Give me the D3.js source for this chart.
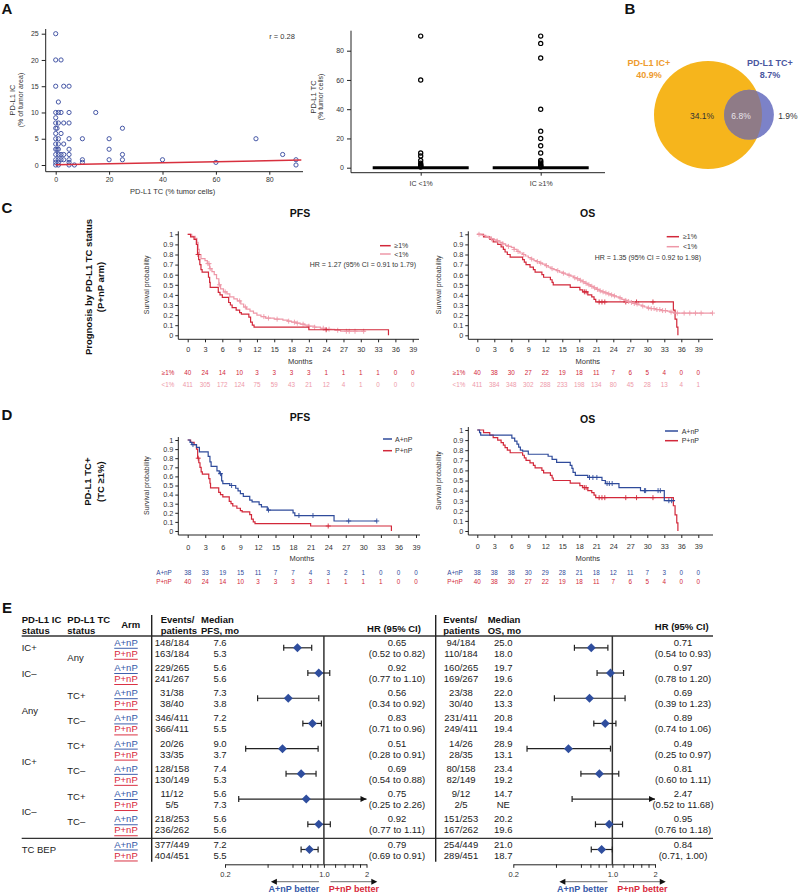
<!DOCTYPE html>
<html><head><meta charset="utf-8">
<script src="https://cdn.jsdelivr.net/npm/d3@7"></script>
<style>body{margin:0;background:#fff;}</style>
</head><body>
<svg id="c" width="799" height="893" xmlns="http://www.w3.org/2000/svg"></svg>
<script>
// ---------------- DATA ----------------
// Panel A scatter: PD-L1 TC (%) vs PD-L1 IC (%)
const scatterTC = [0,0,2,0,3,5,1,0,1,2,5,15,0,0,1,3,5,0,0.5,25,0,2,0,1,5,10,20,75,0,1,3,0,0.5,1,5,20,0,1,2,3,5,25,85,0,1,2,3,5,10,20,25,40,90,0,1,5,10,60,0,1,5,7,90];
const scatterIC = [25,20,20,15,15,15,12,10,10,10,10,10,9,8,8,8,8,7,7,7,6,6,5,5,5,5,5,5,4,4,4,3,3,3,3,3,2,2,2,2,2,2,2,1,1,1,1,1,1,1,1,1,1,0.5,0.5,0.5,0.5,0.5,0,0,0,0,0];
const fitLineTC = [0, 92];
const fitLineIC = [0.05, 0.95];
const scatterXTicks = [0,20,40,60,80];
const scatterYTicks = [0,5,10,15,20,25];
const corrLabel = "r = 0.28";
// Panel A box plot
const boxGroups = ["IC <1%", "IC \u22651%"];
const boxMedians = [0, 0];
const boxOutliersLow = [90,60,10,8,5,3,2,1.5,1,0.5];
const boxOutliersHigh = [90,85,75,40,25,20,15,10,5,4,3,2,1.5,1,0.5];
const boxYTicks = [0,20,40,60,80];
// Panel B Venn
const vennSets = ["PD-L1 IC+", "PD-L1 TC+"];
const vennTotals = [40.9, 8.7];
const vennRegions = [34.1, 6.8, 1.9];
// KM axes
const monthTicks = [0,3,6,9,12,15,18,21,24,27,30,33,36,39];
const survTicks = [0,0.1,0.2,0.3,0.4,0.5,0.6,0.7,0.8,0.9,1];
// PFS, TC>=1%, P+nP
const pfsPos = [[0,1],[0.5,0.975],[1.1,0.95],[1.5,0.9],[1.7,0.8],[1.9,0.75],[2.1,0.7],[2.3,0.65],[2.5,0.625],[3.6,0.575],[3.8,0.525],[3.9,0.475],[5.3,0.425],[5.6,0.4],[6.0,0.375],[7.1,0.325],[7.4,0.3],[7.7,0.275],[8.4,0.25],[9.0,0.225],[9.3,0.21],[10.6,0.18],[10.9,0.13],[11.2,0.1],[11.5,0.08],[21.0,0.055],[34.8,0]];
const pfsPosEnd = 34.8;
const pfsPosCens = [1.8, 24];
// PFS, TC<1%, P+nP
const pfsNeg = [[0,1],[0.7,0.98],[1.3,0.96],[1.6,0.92],[1.8,0.85],[2.0,0.8],[2.3,0.76],[3.0,0.74],[3.4,0.71],[3.8,0.66],[4.2,0.63],[4.6,0.6],[5.0,0.56],[5.4,0.5],[5.7,0.46],[6.2,0.43],[6.8,0.41],[7.3,0.38],[8.0,0.36],[8.6,0.34],[9.2,0.31],[9.7,0.28],[10.2,0.26],[10.8,0.24],[11.4,0.22],[12.0,0.2],[12.7,0.185],[13.5,0.17],[15.0,0.16],[16.5,0.15],[17.3,0.14],[18.0,0.13],[18.8,0.12],[19.5,0.11],[20.3,0.1],[21.0,0.09],[22.0,0.08],[23.0,0.07],[24.0,0.06],[25.5,0.05],[26.5,0.04]];
const pfsNegEnd = 30.8;
const pfsNegCens = [3.5,3.7,3.9,5.5,6.5,9,10,13.2,14,15.5,17.5,18.5,19,20,21,22,23.5,24.5,26,27.5,28,29,30.5];
// OS, TC>=1%, P+nP
const osPos = [[0,1],[1.1,0.975],[2.2,0.95],[2.8,0.925],[3.6,0.9],[4.2,0.875],[4.6,0.85],[4.9,0.825],[5.3,0.8],[5.8,0.775],[8.0,0.75],[8.3,0.725],[8.6,0.7],[9.3,0.675],[9.9,0.65],[10.2,0.625],[11.4,0.6],[11.7,0.575],[12.9,0.55],[13.2,0.525],[13.4,0.5],[16.4,0.475],[18.1,0.45],[18.6,0.43],[19.5,0.4],[20.2,0.38],[20.6,0.355],[20.9,0.33],[34.6,0.25],[34.9,0.16],[35.2,0.08],[35.4,0]];
const osPosEnd = 35.4;
const osPosCens = [18.9,19.2,21.5,22.0,22.5,26.2,28.1,31.0];
// OS, TC<1%, P+nP
const osNeg = [[0,1],[0.5,0.995],[1,0.99],[1.5,0.98],[2,0.965],[2.5,0.955],[3,0.945],[3.5,0.935],[4,0.92],[4.5,0.905],[5,0.89],[5.5,0.88],[6,0.87],[6.5,0.85],[7,0.83],[7.5,0.815],[8,0.8],[8.5,0.785],[9,0.77],[9.5,0.755],[10,0.74],[10.5,0.73],[11,0.715],[11.5,0.705],[12,0.69],[12.5,0.675],[13,0.66],[13.5,0.65],[14,0.64],[14.5,0.625],[15,0.615],[15.5,0.605],[16,0.595],[16.5,0.585],[17,0.57],[17.5,0.56],[18,0.545],[18.5,0.53],[19,0.515],[19.5,0.5],[20,0.485],[20.5,0.47],[21,0.455],[21.5,0.44],[22,0.43],[22.5,0.42],[23,0.41],[23.5,0.4],[24,0.39],[24.5,0.38],[25,0.37],[25.5,0.355],[26,0.345],[26.5,0.335],[27,0.325],[27.5,0.315],[28,0.31],[28.5,0.3],[29,0.29],[29.5,0.28],[30,0.27],[30.5,0.265],[31.5,0.255],[32.5,0.245],[33.5,0.24],[34,0.23],[34.6,0.22]];
const osNegEnd = 41.5;
const osNegCens = [0.3,2.5,3.5,4.5,5.5,6.5,7.2,8.2,9.6,10.6,11.2,12.2,13.2,14.2,15.2,16.2,17.2,17.7,18.2,18.7,19.2,19.7,20.2,20.7,21.2,21.7,22.2,22.7,23.2,23.7,24.2,25.2,26.2,26.7,27.2,27.7,28.2,29.2,30.2,30.7,31.2,31.7,32.2,32.7,33.2,34.2,35.3,36.5,37.5,38.5,39.5,41.5];
// PFS, TC>=1%, A+nP
const pfsAtz = [[0,1],[0.4,0.975],[0.7,0.95],[1.5,0.92],[2.0,0.87],[3.5,0.82],[3.8,0.76],[4.0,0.71],[5.0,0.66],[5.4,0.63],[5.8,0.55],[6.0,0.52],[7.2,0.5],[8.2,0.47],[8.6,0.44],[9.0,0.41],[9.5,0.38],[10.6,0.34],[11.0,0.32],[12.2,0.29],[12.6,0.265],[13.6,0.23],[18.0,0.2],[18.3,0.17],[25.0,0.11]];
const pfsAtzEnd = 32.3;
const pfsAtzCens = [0.9,5.6,7.5,13.8,19,21.4,27.5,32.3];
// OS, TC>=1%, A+nP
const osAtz = [[0,1],[0.4,0.975],[0.6,0.95],[6.1,0.92],[6.6,0.89],[7.0,0.86],[7.3,0.83],[7.6,0.8],[8.0,0.79],[9.0,0.76],[12.5,0.74],[13.2,0.71],[14.0,0.68],[16.4,0.65],[16.7,0.62],[16.9,0.58],[17.3,0.55],[19.5,0.53],[22.0,0.5],[22.6,0.47],[25.0,0.43],[28.8,0.4],[33.0,0.3]];
const osAtzEnd = 34.9;
const osAtzCens = [19.8,20.4,21.1,22.9,23.3,23.8,29.5,29.7,31.9,32.3,33.8,34.3];
// Numbers at risk
const riskPfsPos = [40,24,14,10,3,3,3,3,1,1,1,1,0,0];
const riskPfsNeg = [411,305,172,124,75,59,43,21,12,4,1,0,0,0];
const riskOsPos = [40,38,30,27,22,19,18,11,7,6,5,4,0,0];
const riskOsNeg = [411,384,348,302,288,233,198,134,80,45,28,13,4,1];
const riskPfsAtz = [38,33,19,15,11,7,7,4,3,2,1,0,0,0];
const riskOsAtz = [38,38,38,30,29,28,21,18,12,11,7,3,0,0];
const hrPrognosisPfs = "HR = 1.27 (95% CI = 0.91 to 1.79)";
const hrPrognosisOs = "HR = 1.35 (95% CI = 0.92 to 1.98)";
// Panel E forest table
const icLabels = ["IC+","IC\u2013","Any","IC+","IC\u2013","TC BEP"];
const icLabelRows = [0,1,2.5,4.5,6.5,8];
const tcLabels = ["Any","TC+","TC\u2013","TC+","TC\u2013","TC+","TC\u2013"];
const tcLabelRows = [0.5,2,3,4,5,6,7];
const armLabels = ["A+nP","P+nP"];
const pfsEventsA = ["148/184","229/265","31/38","346/411","20/26","128/158","11/12","218/253","377/449"];
const pfsEventsP = ["163/184","241/267","38/40","366/411","33/35","130/149","5/5","236/262","404/451"];
const pfsMedA = ["7.6","5.6","7.3","7.2","9.0","7.4","5.6","5.6","7.2"];
const pfsMedP = ["5.3","5.6","3.8","5.5","3.7","5.3","7.3","5.6","5.5"];
const pfsHR = [0.65,0.92,0.56,0.83,0.51,0.69,0.75,0.92,0.79];
const pfsLo = [0.52,0.77,0.34,0.71,0.28,0.54,0.25,0.77,0.69];
const pfsHi = [0.82,1.10,0.92,0.96,0.91,0.88,2.26,1.11,0.91];
const osEventsA = ["94/184","160/265","23/38","231/411","14/26","80/158","9/12","151/253","254/449"];
const osEventsP = ["110/184","169/267","30/40","249/411","28/35","82/149","2/5","167/262","289/451"];
const osMedA = ["25.0","19.7","22.0","20.8","28.9","23.4","14.7","20.2","21.0"];
const osMedP = ["18.0","19.6","13.3","19.4","13.1","19.2","NE","19.6","18.7"];
const osHR = [0.71,0.97,0.69,0.89,0.49,0.81,2.47,0.95,0.84];
const osLo = [0.54,0.78,0.39,0.74,0.25,0.60,0.52,0.76,0.71];
const osHi = [0.93,1.20,1.23,1.06,0.97,1.11,11.68,1.18,1.00];
const osCiSep = [" to "," to "," to "," to "," to "," to "," to "," to ",", "];
const forestTicks = [0.2,0.4,0.6,0.7,0.8,0.9,1,1.2,1.4,1.6,1.8,2];
const forestTickLabels = {"0.2":"0.2","1":"1.0","2":"2"};

// ---------------- STYLE ----------------
const FONT = "'Liberation Sans', Arial, Helvetica, sans-serif";
const RED = "#D2283A", PINK = "#EE98A8", BLUE = "#2F4B9B";
const svg = d3.select("#c").attr("font-family", FONT);

function T(p, x, y, s, o = {}) {
  const t = p.append("text").attr("x", x).attr("y", y).text(s)
    .attr("dominant-baseline", "central")
    .attr("font-size", o.size || 9.5).attr("fill", o.fill || "#222")
    .attr("text-anchor", o.anchor || "start");
  if (o.bold) t.attr("font-weight", "bold");
  if (o.italic) t.attr("font-style", "italic");
  if (o.underline) t.attr("text-decoration", "underline");
  if (o.rotate) t.attr("transform", `rotate(-90 ${x} ${y})`);
  return t;
}
function L(p, x1, y1, x2, y2, c = "#222", w = 1) {
  return p.append("line").attr("x1", x1).attr("y1", y1).attr("x2", x2).attr("y2", y2)
    .attr("stroke", c).attr("stroke-width", w);
}
function styleAxis(a, size) {
  a.attr("font-family", FONT).attr("font-size", size).attr("color", "#333");
  a.selectAll(".tick line").attr("stroke", "#222");
}

// Panel letters
[["A",7,8],["B",630,8],["C",7,207],["D",7,414],["E",7,607]].forEach(d =>
  T(svg, d[1], d[2], d[0], {size: 15, bold: true, anchor: "middle", fill: "#111"}));

// ---------------- Panel A scatter ----------------
{
  const g = svg.append("g");
  const x = d3.scaleLinear().domain([0, 80]).range([55.7, 269.3]);
  const y = d3.scaleLinear().domain([0, 25]).range([165, 33.7]);
  const xa = g.append("g").attr("transform", "translate(0,171.7)")
    .call(d3.axisBottom(x).tickValues(scatterXTicks).tickSize(3).tickSizeOuter(0).tickPadding(2));
  xa.select(".domain").remove(); styleAxis(xa, 7);
  const ya = g.append("g").attr("transform", "translate(45.7,0)")
    .call(d3.axisLeft(y).tickValues(scatterYTicks).tickSize(4).tickSizeOuter(0).tickPadding(3));
  ya.select(".domain").remove(); styleAxis(ya, 7);
  L(g, 45.7, 171.7, 303, 171.7, "#222", 1);
  L(g, 45.7, 29, 45.7, 171.7, "#222", 1);
  g.selectAll("circle.pt").data(scatterTC).enter().append("circle")
    .attr("cx", d => x(d)).attr("cy", (d, i) => y(scatterIC[i])).attr("r", 2.1)
    .attr("fill", "none").attr("stroke", "#4657A6").attr("stroke-width", 1);
  g.append("path").attr("d", d3.line()(fitLineTC.map((t, i) => [x(t), y(fitLineIC[i])])))
    .attr("stroke", "#D8303E").attr("stroke-width", 1.5).attr("fill", "none");
  T(g, 282, 36, corrLabel, {size: 7.5, anchor: "middle", fill: "#333"});
  T(g, 172.7, 191, "PD-L1 TC (% tumor cells)", {size: 7.5, anchor: "middle", fill: "#333"});
  T(g, 12.3, 100, "PD-L1 IC", {size: 7.5, anchor: "middle", fill: "#333", rotate: true});
  T(g, 20, 100, "(% of tumor area)", {size: 7, anchor: "middle", fill: "#333", rotate: true});
}

// ---------------- Panel A box plot ----------------
{
  const g = svg.append("g");
  const y = d3.scaleLinear().domain([0, 80]).range([167.7, 50.7]);
  const x = d3.scalePoint().domain(boxGroups).range([420.7, 540.7]);
  const ya = g.append("g").attr("transform", "translate(351,0)")
    .call(d3.axisLeft(y).tickValues(boxYTicks).tickSize(4).tickSizeOuter(0).tickPadding(3));
  ya.select(".domain").remove(); styleAxis(ya, 7);
  const xa = g.append("g").attr("transform", "translate(0,172.7)")
    .call(d3.axisBottom(x).tickSize(3).tickSizeOuter(0).tickPadding(5));
  xa.select(".domain").remove(); styleAxis(xa, 7);
  L(g, 351, 30.7, 351, 172.7, "#222", 1);
  L(g, 351, 172.7, 605, 172.7, "#222", 1);
  boxGroups.forEach((grp, i) => {
    L(g, x(grp) - 48, y(boxMedians[i]), x(grp) + 48, y(boxMedians[i]), "#000", 3);
  });
  [boxOutliersLow, boxOutliersHigh].forEach((arr, i) => {
    g.selectAll(null).data(arr).enter().append("circle")
      .attr("cx", x(boxGroups[i])).attr("cy", d => y(d)).attr("r", 2.1)
      .attr("fill", "none").attr("stroke", "#000").attr("stroke-width", 1.2);
  });
  T(g, 313, 97, "PD-L1 TC", {size: 7.5, anchor: "middle", fill: "#333", rotate: true});
  T(g, 320.5, 97, "(% tumor cells)", {size: 7, anchor: "middle", fill: "#333", rotate: true});
}

// ---------------- Panel B Venn ----------------
{
  const g = svg.append("g");
  const rs = d3.scaleSqrt().domain([0, vennTotals[0]]).range([0, 54]);
  const c1 = {x: 708, y: 115, r: rs(vennTotals[0])};
  const c2 = {x: 749, y: 114.7, r: rs(vennTotals[1])};
  g.append("circle").attr("cx", c1.x).attr("cy", c1.y).attr("r", c1.r).attr("fill", "#F6B51C");
  g.append("circle").attr("cx", c2.x).attr("cy", c2.y).attr("r", c2.r).attr("fill", "#7C82C8");
  svg.append("defs").append("clipPath").attr("id", "vclip").append("circle")
    .attr("cx", c1.x).attr("cy", c1.y).attr("r", c1.r);
  g.append("circle").attr("cx", c2.x).attr("cy", c2.y).attr("r", c2.r).attr("fill", "#8F7B87")
    .attr("clip-path", "url(#vclip)");
  T(g, 649, 63, vennSets[0], {size: 9, bold: true, anchor: "middle", fill: "#EE9B2E"});
  T(g, 649, 75, vennTotals[0] + "%", {size: 9, bold: true, anchor: "middle", fill: "#EE9B2E"});
  T(g, 770, 63, vennSets[1], {size: 9, bold: true, anchor: "middle", fill: "#4A56A0"});
  T(g, 770, 75, vennTotals[1] + "%", {size: 9, bold: true, anchor: "middle", fill: "#4A56A0"});
  T(g, 702, 115.5, vennRegions[0] + "%", {size: 8.5, anchor: "middle", fill: "#333"});
  T(g, 741, 115.5, vennRegions[1] + "%", {size: 8.5, anchor: "middle", fill: "#E8E4EA"});
  T(g, 797.5, 115.5, vennRegions[2] + "%", {size: 8.5, anchor: "end", fill: "#333"});
}

// ---------------- KM panels ----------------
function survAt(steps, t) {
  let s = steps[0][1];
  for (const st of steps) { if (st[0] <= t) s = st[1]; }
  return s;
}
function km(cfg) {
  const g = svg.append("g");
  const x = d3.scaleLinear().domain([0, 39]).range([cfg.x0, cfg.x39]);
  const y = d3.scaleLinear().domain([0, 1]).range([cfg.yb, cfg.yt]);
  const xa = g.append("g").attr("transform", `translate(0,${cfg.xAxisY})`)
    .call(d3.axisBottom(x).tickValues(monthTicks).tickSize(3).tickSizeOuter(0).tickPadding(cfg.xPad));
  xa.select(".domain").remove(); styleAxis(xa, 7.3);
  const ya = g.append("g").attr("transform", `translate(${cfg.ax},0)`)
    .call(d3.axisLeft(y).tickValues(survTicks).tickSize(3).tickSizeOuter(0).tickPadding(2).tickFormat(d => String(d)));
  ya.select(".domain").remove(); styleAxis(ya, 7.3);
  L(g, cfg.ax, cfg.xAxisY, cfg.axEnd, cfg.xAxisY, "#222", 1);
  L(g, cfg.ax, cfg.yt - 3, cfg.ax, cfg.xAxisY, "#222", 1);
  T(g, cfg.tx, cfg.ty, cfg.title, {size: 10.5, bold: true, anchor: "middle", fill: "#111"});
  T(g, cfg.ylx, (cfg.yt + cfg.yb) / 2, "Survival probability", {size: 7, anchor: "middle", fill: "#333", rotate: true});
  T(g, (cfg.x0 + cfg.x39) / 2, cfg.monthsY, "Months", {size: 7.5, anchor: "middle", fill: "#333"});
  const line = d3.line().x(d => x(d[0])).y(d => y(d[1])).curve(d3.curveStepAfter);
  cfg.series.forEach(s => {
    const pts = s.steps.concat([[s.end, s.steps[s.steps.length - 1][1]]]);
    g.append("path").attr("d", line(pts)).attr("fill", "none").attr("stroke", s.color).attr("stroke-width", 1.2);
    s.censor.forEach(t => {
      const cx = x(t), cy = y(survAt(s.steps, t));
      g.append("path").attr("d", `M${cx - 2.5},${cy}H${cx + 2.5}M${cx},${cy - 2.5}V${cy + 2.5}`)
        .attr("stroke", s.color).attr("stroke-width", 0.9);
    });
  });
  cfg.legend.forEach((s, i) => {
    L(g, cfg.lx1, cfg.lys[i], cfg.lx2, cfg.lys[i], s.color, 1.5);
    T(g, cfg.ltx, cfg.lys[i], s.label, {size: 7, fill: "#333"});
  });
  if (cfg.hr) T(g, cfg.hrx, cfg.hry, cfg.hr, {size: 7, anchor: "end", fill: "#333"});
  cfg.risk.forEach((r, i) => {
    T(g, cfg.rlx, cfg.rys[i], r.label, {size: 6.3, anchor: "middle", fill: r.color});
    r.values.forEach((v, j) => T(g, x(monthTicks[j]), cfg.rys[i], String(v), {size: 6.3, anchor: "middle", fill: r.color}));
  });
}
const sPfsPos = {steps: pfsPos, end: pfsPosEnd, censor: pfsPosCens, color: RED};
const sPfsNeg = {steps: pfsNeg, end: pfsNegEnd, censor: pfsNegCens, color: PINK};
const sOsPos = {steps: osPos, end: osPosEnd, censor: osPosCens, color: RED};
const sOsNeg = {steps: osNeg, end: osNegEnd, censor: osNegCens, color: PINK};
const sPfsAtz = {steps: pfsAtz, end: pfsAtzEnd, censor: pfsAtzCens, color: BLUE};
const sOsAtz = {steps: osAtz, end: osAtzEnd, censor: osAtzCens, color: BLUE};

km({title: "PFS", tx: 300, ty: 213, x0: 187.7, x39: 412.7, yt: 234.3, yb: 335.3, xAxisY: 339.3, ax: 178.3, axEnd: 419, xPad: 5,
  ylx: 146.7, monthsY: 361.7, series: [sPfsNeg, sPfsPos],
  legend: [{color: RED, label: "\u22651%"}, {color: PINK, label: "<1%"}], lx1: 380, lx2: 390.7, ltx: 394.3, lys: [245.7, 254],
  hr: hrPrognosisPfs, hrx: 416, hry: 264.7,
  risk: [{label: "\u22651%", values: riskPfsPos, color: RED}, {label: "<1%", values: riskPfsNeg, color: PINK}], rlx: 168, rys: [372.7, 384]});
km({title: "OS", tx: 587.7, ty: 213, x0: 477.3, x39: 698.3, yt: 234.3, yb: 335.3, xAxisY: 339.3, ax: 468.3, axEnd: 713, xPad: 5,
  ylx: 438.3, monthsY: 361.7, series: [sOsPos, sOsNeg],
  legend: [{color: RED, label: "\u22651%"}, {color: PINK, label: "<1%"}], lx1: 666.7, lx2: 679, ltx: 683, lys: [236.7, 246.7],
  hr: hrPrognosisOs, hrx: 701, hry: 257.3,
  risk: [{label: "\u22651%", values: riskOsPos, color: RED}, {label: "<1%", values: riskOsNeg, color: PINK}], rlx: 459, rys: [372.7, 384]});
km({title: "PFS", tx: 300, ty: 416.7, x0: 187.7, x39: 416, yt: 440, yb: 531, xAxisY: 535, ax: 178.3, axEnd: 420, xPad: 6.5,
  ylx: 146.7, monthsY: 558.3, series: [sPfsPos, sPfsAtz],
  legend: [{color: BLUE, label: "A+nP"}, {color: RED, label: "P+nP"}], lx1: 383, lx2: 392, ltx: 395, lys: [439, 450.7],
  risk: [{label: "A+nP", values: riskPfsAtz, color: BLUE}, {label: "P+nP", values: riskPfsPos, color: RED}], rlx: 164, rys: [572.3, 581]});
km({title: "OS", tx: 587.7, ty: 419.3, x0: 477.3, x39: 698.3, yt: 430, yb: 531, xAxisY: 535, ax: 468.3, axEnd: 713, xPad: 6,
  ylx: 438.3, monthsY: 558.3, series: [sOsPos, sOsAtz],
  legend: [{color: BLUE, label: "A+nP"}, {color: RED, label: "P+nP"}], lx1: 665, lx2: 678, ltx: 681.7, lys: [431, 440.7],
  risk: [{label: "A+nP", values: riskOsAtz, color: BLUE}, {label: "P+nP", values: riskOsPos, color: RED}], rlx: 455, rys: [572.3, 581]});

// Row titles for C and D
T(svg, 88, 287, "Prognosis by PD-L1 TC status", {size: 9.5, bold: true, anchor: "middle", fill: "#111", rotate: true});
T(svg, 100.5, 287, "(P+nP arm)", {size: 9.5, bold: true, anchor: "middle", fill: "#111", rotate: true});
T(svg, 88, 481.7, "PD-L1 TC+", {size: 9.5, bold: true, anchor: "middle", fill: "#111", rotate: true});
T(svg, 100.5, 481.7, "(TC \u22651%)", {size: 9.5, bold: true, anchor: "middle", fill: "#111", rotate: true});

// ---------------- Panel E forest ----------------
{
  const g = svg.append("g");
  const fy = d3.scaleLinear().domain([0, 8]).range([647.8, 849.5]);
  const xP = d3.scaleLog().domain([0.2, 2]).range([225, 366.5]);
  const xO = d3.scaleLog().domain([0.2, 2]).range([513.3, 655]);
  const off = 5.5, HB = {size: 9.5, bold: true, fill: "#111"};
  // headers
  T(g, 21.7, 619.3, "PD-L1 IC", HB); T(g, 21.7, 630.5, "status", HB);
  T(g, 67.3, 619.3, "PD-L1 TC", HB); T(g, 67.3, 630.5, "status", HB);
  T(g, 130.7, 624.3, "Arm", {...HB, anchor: "middle"});
  T(g, 160.7, 619.3, "Events/", HB); T(g, 160.7, 630.5, "patients", HB);
  T(g, 201, 619.3, "Median", HB); T(g, 201, 630.5, "PFS, mo", HB);
  T(g, 394, 628, "HR (95% CI)", {...HB, anchor: "middle"});
  T(g, 443.3, 619.3, "Events/", HB); T(g, 443.3, 630.5, "patients", HB);
  T(g, 487.7, 619.3, "Median", HB); T(g, 487.7, 630.5, "OS, mo", HB);
  T(g, 681.7, 626, "HR (95% CI)", {...HB, anchor: "middle"});
  // rules
  L(g, 21.7, 636, 713, 636, "#333", 1.3);
  L(g, 21.7, 838.3, 713, 838.3, "#333", 1.3);
  L(g, 151.7, 615, 151.7, 861.7, "#222", 1.4);
  L(g, 435.7, 615, 435.7, 861.7, "#222", 1.4);
  L(g, xP(1), 636, xP(1), 864.3, "#333", 1.5);
  L(g, xO(1), 636, xO(1), 864.3, "#333", 1.5);
  // left labels
  icLabels.forEach((s, i) => T(g, 21.7, fy(icLabelRows[i]), s, {size: 9.5}));
  tcLabels.forEach((s, i) => T(g, 67.3, fy(tcLabelRows[i]) - 3, s, {size: 9.5}));
  // rows
  const fmt = d3.format(".2f");
  for (let i = 0; i < pfsHR.length; i++) {
    const yA = fy(i) - off, yP = fy(i) + off;
    T(g, 126, yA, armLabels[0], {size: 9.5, anchor: "middle", fill: "#3558A8", underline: true});
    T(g, 126, yP, armLabels[1], {size: 9.5, anchor: "middle", fill: "#D8283A", underline: true});
    T(g, 172, yA, pfsEventsA[i], {anchor: "middle"});
    T(g, 172, yP, pfsEventsP[i], {anchor: "middle"});
    T(g, 220, yA, pfsMedA[i], {anchor: "middle"});
    T(g, 220, yP, pfsMedP[i], {anchor: "middle"});
    T(g, 397, yA, fmt(pfsHR[i]), {anchor: "middle"});
    T(g, 397, yP, "(" + fmt(pfsLo[i]) + " to " + fmt(pfsHi[i]) + ")", {anchor: "middle"});
    T(g, 461, yA, osEventsA[i], {anchor: "middle"});
    T(g, 461, yP, osEventsP[i], {anchor: "middle"});
    T(g, 503.3, yA, osMedA[i], {anchor: "middle"});
    T(g, 503.3, yP, osMedP[i], {anchor: "middle"});
    T(g, 683, yA, fmt(osHR[i]), {anchor: "middle"});
    T(g, 683, yP, "(" + fmt(osLo[i]) + osCiSep[i] + fmt(osHi[i]) + ")", {anchor: "middle"});
  }
  function forest(x, hr, lo, hi) {
    hr.forEach((h, i) => {
      const cy = fy(i), max = x.domain()[1];
      const x1 = x(lo[i]), x2 = x(Math.min(hi[i], max));
      L(g, x1, cy, x2, cy, "#222", 1.2);
      L(g, x1, cy - 3, x1, cy + 3, "#222", 1.2);
      if (hi[i] <= max) L(g, x2, cy - 3, x2, cy + 3, "#222", 1.2);
      else g.append("path").attr("d", `M${x2 - 6},${cy - 3}L${x2},${cy}L${x2 - 6},${cy + 3}Z`).attr("fill", "#111");
      if (h <= max) {
        const hx = x(h);
        g.append("path").attr("d", `M${hx - 4.5},${cy}L${hx},${cy - 4.5}L${hx + 4.5},${cy}L${hx},${cy + 4.5}Z`).attr("fill", "#2F4E9E");
      }
    });
    const a = g.append("g").attr("transform", "translate(0,864.3)")
      .call(d3.axisBottom(x).tickValues(forestTicks).tickSize(3.5).tickSizeOuter(0).tickPadding(3.5)
        .tickFormat(d => forestTickLabels[String(d)] || ""));
    styleAxis(a, 7.5);
    a.select(".domain").attr("stroke", "#222");
    const r1 = x(1);
    L(g, r1 - 5, 881.7, r1 - 50, 881.7, "#888", 1.3);
    g.append("path").attr("d", `M${r1 - 53},881.7L${r1 - 47},878.7L${r1 - 47},884.7Z`).attr("fill", "#111");
    L(g, r1 + 6.6, 881.7, r1 + 50, 881.7, "#888", 1.3);
    g.append("path").attr("d", `M${r1 + 53.4},881.7L${r1 + 47.4},878.7L${r1 + 47.4},884.7Z`).attr("fill", "#111");
    T(g, r1 - 30, 889, "A+nP better", {size: 9, bold: true, anchor: "middle", fill: "#3558A8"});
    T(g, r1 + 30, 889, "P+nP better", {size: 9, bold: true, anchor: "middle", fill: "#D8283A"});
  }
  forest(xP, pfsHR, pfsLo, pfsHi);
  forest(xO, osHR, osLo, osHi);
}
</script>
</body></html>
